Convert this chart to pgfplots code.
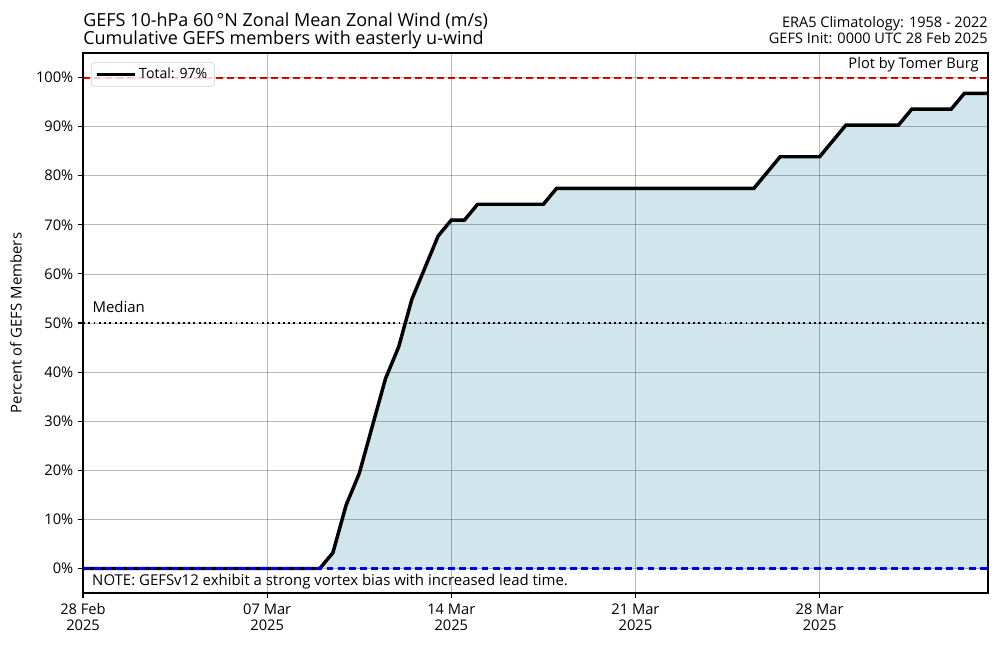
\documentclass[border=0pt]{standalone}
\usepackage{pgfplots}
\pgfplotsset{compat=1.18}
\usepackage{fontspec}
\setmainfont{Open Sans}
\definecolor{fillblue}{HTML}{D1E5EC}
\begin{document}
\begin{tikzpicture}
\useasboundingbox (0,0) rectangle (722.7pt,466.9pt);
\begin{axis}[
  at={(60pt,38.3pt)}, anchor=south west,
  width=654pt, height=390.3pt, scale only axis,
  xmin=0, xmax=34.4, ymin=-5, ymax=105,
  xtick={0,7,14,21,28},
  xticklabels={28 Feb\\2025, 07 Mar\\2025, 14 Mar\\2025, 21 Mar\\2025, 28 Mar\\2025},
  xticklabel style={align=center, font=\fontsize{10.6}{11.8}\selectfont, yshift=-0.5pt},
  ytick={0,10,...,100},
  yticklabels={0\%,10\%,20\%,30\%,40\%,50\%,60\%,70\%,80\%,90\%,100\%},
  yticklabel style={font=\fontsize{10.6}{12}\selectfont},
  tick align=outside, tick pos=left,
  major tick length=3.5pt,
  tick style={black, line width=0.8pt},
  grid=major, grid style={black, opacity=0.27, line width=0.55pt},
  axis on top,
  axis line style={line width=0.9pt},
  ylabel={Percent of GEFS Members},
  ylabel style={font=\fontsize{10.8}{12}\selectfont, at={(axis description cs:-0.074,0.5)}, anchor=center},
  legend style={at={(0.009,0.983)}, anchor=north west, draw=black!20, rounded corners=2pt,
    fill=white, fill opacity=0.8, text opacity=1, font=\fontsize{10.2}{12}\selectfont,
    inner xsep=3pt, inner ysep=2pt},
  legend cell align=left,
  legend image code/.code={\draw[#1, line width=2.5pt] (0pt,0pt) -- (27pt,0pt);},
]
\addplot[fill=fillblue, draw=none, forget plot] coordinates {
(0,0) (9,0) (9.5,3.226) (10,12.903) (10.5,19.355) (11,29.032) (11.5,38.710) (12,45.161)
(12.5,54.839) (13,61.290) (13.5,67.742) (14,70.968) (14.5,70.968) (15,74.194) (17.5,74.194)
(18,77.419) (25.5,77.419) (26,80.645) (26.5,83.871) (28,83.871) (29,90.323) (31,90.323)
(31.5,93.548) (33,93.548) (33.5,96.774) (34.4,96.774) (34.4,0)} \closedcycle;
\addplot[black, line width=2.5pt, line join=miter] coordinates {
(0,0) (9,0) (9.5,3.226) (10,12.903) (10.5,19.355) (11,29.032) (11.5,38.710) (12,45.161)
(12.5,54.839) (13,61.290) (13.5,67.742) (14,70.968) (14.5,70.968) (15,74.194) (17.5,74.194)
(18,77.419) (25.5,77.419) (26,80.645) (26.5,83.871) (28,83.871) (29,90.323) (31,90.323)
(31.5,93.548) (33,93.548) (33.5,96.774) (35,96.774)};
\addlegendentry{Total: 97\%}
\addplot[blue, line width=1.5pt, dash pattern=on 5pt off 3pt, forget plot] coordinates {(0,0) (34.4,0)};
\addplot[red, line width=1.5pt, dash pattern=on 5pt off 3pt, forget plot] coordinates {(0,100) (34.4,100)};
\addplot[black, line width=1.5pt, dash pattern=on 1.4pt off 2.4pt, forget plot] coordinates {(0,50) (34.4,50)};
\node[anchor=base west, inner sep=0, font=\fontsize{10.8}{12}\selectfont] at (axis cs:0.35,52.2) {Median};
\node[anchor=base west, inner sep=0, font=\fontsize{10.8}{12}\selectfont] at (axis cs:0.34,-3.4) {NOTE: GEFSv12 exhibit a strong vortex bias with increased lead time.};
\node[anchor=base east, inner sep=0, font=\fontsize{10.6}{12}\selectfont] at (axis cs:34.06,101.8) {Plot by Tomer Burg};
\end{axis}
\node[anchor=base west, inner sep=0, font=\fontsize{13}{14}\selectfont] at (60pt,448.1pt) {GEFS 10-hPa 60\,°N Zonal Mean Zonal Wind (m/s)};
\node[anchor=base west, inner sep=0, font=\fontsize{13}{14}\selectfont] at (60pt,434.9pt) {Cumulative GEFS members with easterly u-wind};
\node[anchor=base east, inner sep=0, font=\fontsize{10.5}{12}\selectfont] at (714pt,446.7pt) {ERA5 Climatology: 1958 - 2022};
\node[anchor=base east, inner sep=0, font=\fontsize{10.5}{12}\selectfont] at (714pt,435.8pt) {GEFS Init: 0000 UTC 28 Feb 2025};
\end{tikzpicture}
\end{document}
